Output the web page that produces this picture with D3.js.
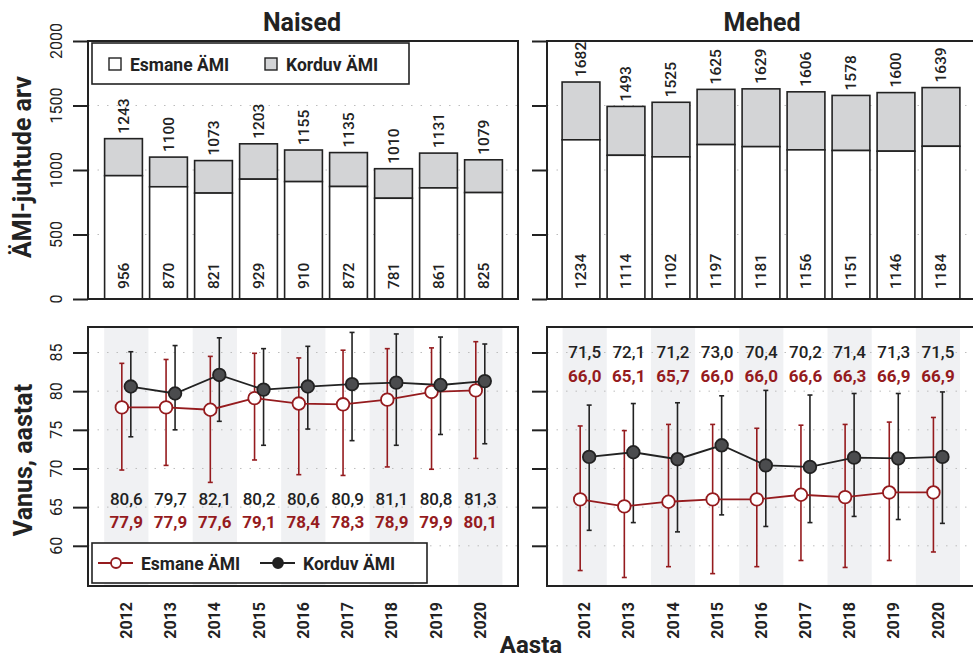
<!DOCTYPE html>
<html lang="et">
<head>
<meta charset="UTF-8">
<title>ÄMI juhud ja vanus</title>
<script src="https://cdn.jsdelivr.net/npm/d3@7/dist/d3.min.js"></script>
<style>
  body { margin: 0; background: #fff; }
  svg { font-family: Roboto, "Open Sans", sans-serif; }
</style>
</head>
<body>
<script>
// andmed
var years = [2012, 2013, 2014, 2015, 2016, 2017, 2018, 2019, 2020];

var naisedEsmane = [956, 870, 821, 929, 910, 872, 781, 861, 825];
var naisedKokku  = [1243, 1100, 1073, 1203, 1155, 1135, 1010, 1131, 1079];
var mehedEsmane  = [1234, 1114, 1102, 1197, 1181, 1156, 1151, 1146, 1184];
var mehedKokku   = [1682, 1493, 1525, 1625, 1629, 1606, 1578, 1600, 1639];

var naisedEsmaneVanus = [77.9, 77.9, 77.6, 79.1, 78.4, 78.3, 78.9, 79.9, 80.1];
var naisedEsmaneAlum  = [69.8, 70.4, 68.2, 71.1, 69.2, 69.1, 70.2, 69.9, 71.3];
var naisedEsmaneYlem  = [83.6, 84.1, 84.5, 84.9, 84.3, 85.3, 85.5, 85.6, 86.4];
var naisedKorduvVanus = [80.6, 79.7, 82.1, 80.2, 80.6, 80.9, 81.1, 80.8, 81.3];
var naisedKorduvAlum  = [74.1, 75.0, 76.1, 73.0, 75.1, 73.6, 73.0, 74.4, 73.2];
var naisedKorduvYlem  = [85.1, 85.9, 86.9, 85.5, 85.8, 87.6, 87.4, 87.0, 86.1];

var mehedEsmaneVanus = [66.0, 65.1, 65.7, 66.0, 66.0, 66.6, 66.3, 66.9, 66.9];
var mehedEsmaneAlum  = [56.8, 55.9, 57.3, 56.4, 57.3, 58.1, 57.2, 58.1, 59.2];
var mehedEsmaneYlem  = [75.5, 74.9, 75.7, 75.7, 75.2, 75.6, 75.7, 76.0, 76.6];
var mehedKorduvVanus = [71.5, 72.1, 71.2, 73.0, 70.4, 70.2, 71.4, 71.3, 71.5];
var mehedKorduvAlum  = [62.0, 63.0, 61.8, 64.0, 62.5, 63.0, 63.8, 63.4, 62.9];
var mehedKorduvYlem  = [78.2, 78.4, 78.5, 79.4, 80.1, 79.5, 79.7, 79.7, 79.9];

var countTicks = [0, 500, 1000, 1500, 2000];
var ageTicks = [60, 65, 70, 75, 80, 85];

var RED = "#951b1e", DARK = "#222", GREY = "#d3d4d6", STRIPE = "#f0f1f3";

var svg = d3.select("body").append("svg")
    .attr("width", 973).attr("height", 660);

var fmt = function(v) { return d3.format(".1f")(v).replace(".", ","); };

var yTop = d3.scaleLinear().domain([0, 2000]).range([299, 41]);
var yBot = d3.scaleLinear().domain([54.8, 88.3]).range([586, 327]);

var panels = [
  { title: "Naised", tx: 302, left: 88, right: 518, barRange: [101, 506], ageRange: [104.2, 502.4],
    esmane: naisedEsmane, kokku: naisedKokku,
    eV: naisedEsmaneVanus, eA: naisedEsmaneAlum, eY: naisedEsmaneYlem,
    kV: naisedKorduvVanus, kA: naisedKorduvAlum, kY: naisedKorduvYlem,
    labelY: [66.1, 63.1], tickLabels: true },
  { title: "Mehed", tx: 762, left: 547, right: 990, barRange: [558.5, 963.5], ageRange: [562.6, 960],
    esmane: mehedEsmane, kokku: mehedKokku,
    eV: mehedEsmaneVanus, eA: mehedEsmaneAlum, eY: mehedEsmaneYlem,
    kV: mehedKorduvVanus, kA: mehedKorduvAlum, kY: mehedKorduvYlem,
    labelY: [85.0, 81.9], tickLabels: false }
];

function grid(g, p, scale, ticks) {
  g.selectAll(null).data(ticks).enter().append("line")
    .attr("x1", p.left).attr("x2", p.right)
    .attr("y1", function(d) { return scale(d); })
    .attr("y2", function(d) { return scale(d); })
    .attr("stroke", "#bdbdbd").attr("stroke-width", 1)
    .attr("stroke-dasharray", "1.5,8");
}

function yAxis(g, p, scale, ticks) {
  var ax = g.append("g").attr("transform", "translate(" + p.left + ",0)")
    .call(d3.axisLeft(scale).tickValues(ticks).tickSize(15).tickFormat(""));
  ax.select(".domain").remove();
  ax.selectAll("line").attr("stroke", DARK).attr("stroke-width", 2);
  if (p.tickLabels) {
    g.selectAll(null).data(ticks).enter().append("text")
      .attr("transform", function(d) { return "translate(56," + scale(d) + ") rotate(-90)"; })
      .attr("dy", "0.35em").attr("text-anchor", "middle")
      .attr("font-size", 16).attr("fill", DARK)
      .text(function(d) { return d; });
  }
}

function box(g, p, top, bottom) {
  g.append("rect").attr("x", p.left).attr("y", top)
    .attr("width", p.right - p.left).attr("height", bottom - top)
    .attr("fill", "none").attr("stroke", DARK).attr("stroke-width", 2);
}

panels.forEach(function(p) {
  var g = svg.append("g");

  // ---- ylemine paneel: tulbad
  g.append("text").attr("x", p.tx).attr("y", 31).attr("text-anchor", "middle")
    .attr("font-size", 25).attr("font-weight", 700).attr("fill", DARK).text(p.title);

  var xb = d3.scaleBand().domain(years).range(p.barRange).paddingInner(0.16).paddingOuter(0.08);
  grid(g, p, yTop, [500, 1000, 1500]);

  var bars = g.selectAll(null).data(years).enter().append("g");
  bars.append("rect")
    .attr("x", function(d) { return xb(d); }).attr("width", xb.bandwidth())
    .attr("y", function(d, i) { return yTop(p.kokku[i]); })
    .attr("height", function(d, i) { return yTop(p.esmane[i]) - yTop(p.kokku[i]); })
    .attr("fill", GREY).attr("stroke", DARK).attr("stroke-width", 1.6);
  bars.append("rect")
    .attr("x", function(d) { return xb(d); }).attr("width", xb.bandwidth())
    .attr("y", function(d, i) { return yTop(p.esmane[i]); })
    .attr("height", function(d, i) { return yTop(0) - yTop(p.esmane[i]); })
    .attr("fill", "#fff").attr("stroke", DARK).attr("stroke-width", 1.6);
  bars.append("text")
    .attr("transform", function(d, i) {
      return "translate(" + (xb(d) + xb.bandwidth() / 2) + "," + (yTop(p.kokku[i]) - 5) + ") rotate(-90)";
    })
    .attr("dy", "0.35em").attr("font-size", 15.5).attr("font-weight", 500).attr("fill", DARK)
    .text(function(d, i) { return p.kokku[i]; });
  bars.append("text")
    .attr("transform", function(d) {
      return "translate(" + (xb(d) + xb.bandwidth() / 2) + "," + (yTop(0) - 10) + ") rotate(-90)";
    })
    .attr("dy", "0.35em").attr("font-size", 15.5).attr("font-weight", 500).attr("fill", DARK)
    .text(function(d, i) { return p.esmane[i]; });

  yAxis(g, p, yTop, countTicks);
  box(g, p, yTop(2000), yTop(0));

  // ---- alumine paneel: vanus
  var xa = d3.scaleBand().domain(years).range(p.ageRange);
  var cx = function(d) { return xa(d) + xa.bandwidth() / 2; };

  g.selectAll(null).data(years.filter(function(d, i) { return i % 2 === 0; }))
    .enter().append("rect")
    .attr("x", function(d) { return xa(d); }).attr("width", xa.bandwidth())
    .attr("y", yBot.range()[1]).attr("height", yBot.range()[0] - yBot.range()[1])
    .attr("fill", STRIPE);
  grid(g, p, yBot, ageTicks);

  var series = [
    { v: p.eV, lo: p.eA, hi: p.eY, dx: -4.5, color: RED, fill: "#fff", stroke: RED, weight: 700, ly: p.labelY[1] },
    { v: p.kV, lo: p.kA, hi: p.kY, dx: 4.5, color: DARK, fill: "#4b4c4e", stroke: DARK, weight: 500, ly: p.labelY[0] }
  ];

  series.forEach(function(s) {
    var eb = g.selectAll(null).data(years).enter().append("g");
    eb.append("line")
      .attr("x1", function(d) { return cx(d) + s.dx; }).attr("x2", function(d) { return cx(d) + s.dx; })
      .attr("y1", function(d, i) { return yBot(s.lo[i]); })
      .attr("y2", function(d, i) { return yBot(s.hi[i]); })
      .attr("stroke", s.color).attr("stroke-width", 1.6);
    [s.lo, s.hi].forEach(function(arr) {
      eb.append("line")
        .attr("x1", function(d) { return cx(d) + s.dx - 2.5; })
        .attr("x2", function(d) { return cx(d) + s.dx + 2.5; })
        .attr("y1", function(d, i) { return yBot(arr[i]); })
        .attr("y2", function(d, i) { return yBot(arr[i]); })
        .attr("stroke", s.color).attr("stroke-width", 1.6);
    });
  });

  series.forEach(function(s) {
    var line = d3.line()
      .x(function(d) { return cx(d) + s.dx; })
      .y(function(d, i) { return yBot(s.v[i]); });
    g.append("path").datum(years).attr("d", line)
      .attr("fill", "none").attr("stroke", s.color).attr("stroke-width", 1.8);
  });

  series.forEach(function(s) {
    g.selectAll(null).data(years).enter().append("circle")
      .attr("cx", function(d) { return cx(d) + s.dx; })
      .attr("cy", function(d, i) { return yBot(s.v[i]); })
      .attr("r", 6.3).attr("fill", s.fill).attr("stroke", s.stroke).attr("stroke-width", 1.8);
    g.selectAll(null).data(years).enter().append("text")
      .attr("x", cx).attr("y", yBot(s.ly)).attr("dy", "0.35em")
      .attr("text-anchor", "middle").attr("font-size", 17).attr("font-weight", s.weight)
      .attr("fill", s.color)
      .text(function(d, i) { return fmt(s.v[i]); });
  });

  yAxis(g, p, yBot, ageTicks);
  box(g, p, yBot.range()[1], yBot.range()[0]);

  // aastad
  g.selectAll(null).data(years).enter().append("text")
    .attr("transform", function(d) { return "translate(" + cx(d) + ",602) rotate(-90)"; })
    .attr("dy", "0.35em").attr("text-anchor", "end")
    .attr("font-size", 16).attr("font-weight", 700).attr("fill", DARK)
    .text(function(d) { return d; });
});

// legendid
var lg1 = svg.append("g");
lg1.append("rect").attr("x", 92).attr("y", 43).attr("width", 317).attr("height", 41)
  .attr("fill", "#fff").attr("stroke", DARK).attr("stroke-width", 1.6);
[{ x: 109, fill: "#fff", label: "Esmane ÄMI" }, { x: 265, fill: GREY, label: "Korduv ÄMI" }]
  .forEach(function(it) {
    lg1.append("rect").attr("x", it.x).attr("y", 58).attr("width", 12).attr("height", 12)
      .attr("fill", it.fill).attr("stroke", DARK).attr("stroke-width", 1.4);
    lg1.append("text").attr("x", it.x + 21).attr("y", 70.5)
      .attr("font-size", 17.5).attr("font-weight", 700).attr("fill", DARK).text(it.label);
  });

var lg2 = svg.append("g");
lg2.append("rect").attr("x", 92).attr("y", 543).attr("width", 335).attr("height", 40)
  .attr("fill", "#fff").attr("stroke", DARK).attr("stroke-width", 1.6);
[{ x: 98, color: RED, fill: "#fff", label: "Esmane ÄMI" }, { x: 260, color: DARK, fill: DARK, label: "Korduv ÄMI" }]
  .forEach(function(it) {
    lg2.append("line").attr("x1", it.x).attr("x2", it.x + 35).attr("y1", 563).attr("y2", 563)
      .attr("stroke", it.color).attr("stroke-width", 1.8);
    lg2.append("circle").attr("cx", it.x + 18).attr("cy", 563).attr("r", 5)
      .attr("fill", it.fill).attr("stroke", it.color).attr("stroke-width", 1.8);
    lg2.append("text").attr("x", it.x + 43).attr("y", 569.5)
      .attr("font-size", 17.5).attr("font-weight", 700).attr("fill", DARK).text(it.label);
  });

// teljepealkirjad
svg.append("text").attr("transform", "translate(31,167) rotate(-90)")
  .attr("text-anchor", "middle").attr("font-size", 25).attr("font-weight", 700)
  .attr("fill", DARK).text("ÄMI-juhtude arv");
svg.append("text").attr("transform", "translate(32,460) rotate(-90)")
  .attr("text-anchor", "middle").attr("font-size", 25).attr("font-weight", 700)
  .attr("fill", DARK).text("Vanus, aastat");
svg.append("text").attr("x", 531).attr("y", 653)
  .attr("text-anchor", "middle").attr("font-size", 24).attr("font-weight", 700)
  .attr("fill", DARK).text("Aasta");
</script>
</body>
</html>
